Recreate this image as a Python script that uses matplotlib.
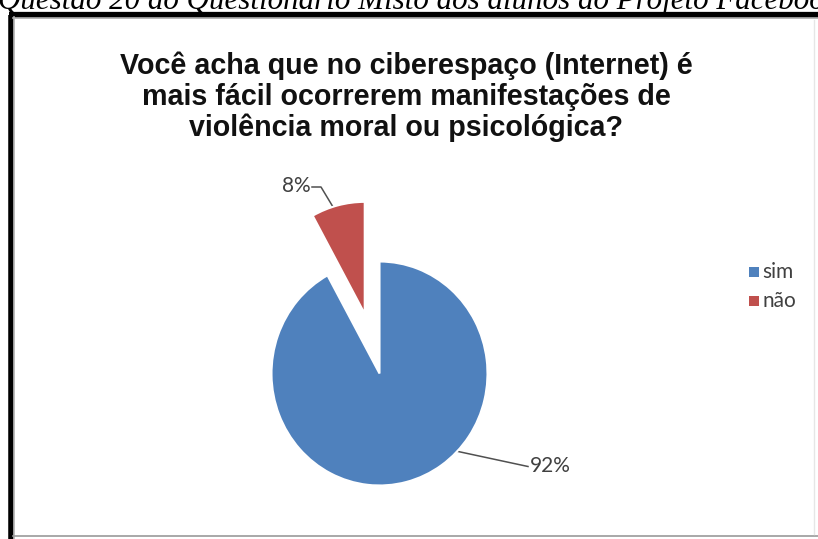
import matplotlib
matplotlib.use("Agg")
import matplotlib.pyplot as plt
import numpy as np

# Survey answers
categories = ["sim", "não"]
values = [92, 8]
pct_labels = ["92%", "8%"]
colors = ["#4F81BD", "#C0504D"]

caption = "Questão 20 do Questionário Misto dos alunos do Projeto Facebook"
title = ("Você acha que no ciberespaço (Internet) é\n"
         "mais fácil ocorrerem manifestações de\n"
         "violência moral ou psicológica?")

W, H = 818, 539
fig = plt.figure(figsize=(W / 100, H / 100), dpi=100)
fig.patch.set_facecolor("white")

# Overlay axes in pixel coordinates (origin top-left)
bg = fig.add_axes([0, 0, 1, 1])
bg.set_xlim(0, W)
bg.set_ylim(H, 0)
bg.axis("off")

# Caption above the chart frame, partly cut by the top edge
bg.text(-2, 9, caption, family="Liberation Serif", style="italic",
        fontsize=22.3, ha="left", va="baseline", color="black", zorder=1)

# Chart frame
bg.plot([10.5, 10.5], [H + 5, 14.5], color="black", lw=4, solid_capstyle="butt")
bg.plot([8.5, W + 5], [14.5, 14.5], color="black", lw=4.5, solid_capstyle="butt")
bg.plot([14, 14], [H, 17], color="#b0b0b0", lw=1.2)
bg.plot([13, W], [17.5, 17.5], color="#b0b0b0", lw=1.2)
bg.plot([13, W], [535.5, 535.5], color="#9a9a9a", lw=1.2)
bg.plot([814, 814], [20, 534], color="#e6e6e6", lw=1)

# Title
bg.text(406, 97, title, family="Liberation Sans", fontweight="bold",
        fontsize=20.6, ha="center", va="center", linespacing=1.13,
        color="#111111")

# Pie axes: radius 1 maps to ~108 px horizontally, ~112 px vertically
cx, cy = 379.5, 373.5
rx, ry = 108.0, 112.0
lim = 1.6
left = (cx - lim * rx) / W
bottom = ((H - cy) - lim * ry) / H
ax = fig.add_axes([left, bottom, 2 * lim * rx / W, 2 * lim * ry / H])
ax.set_xlim(-lim, lim)
ax.set_ylim(-lim, lim)
ax.axis("off")

wedges, _ = ax.pie(values, colors=colors, startangle=90, counterclock=False,
                   explode=[0, 0.55], radius=1,
                   wedgeprops=dict(edgecolor="white", linewidth=1.5))
ax.set_aspect("auto")
ax.set_xlim(-lim, lim)
ax.set_ylim(-lim, lim)

label_font = dict(family="Lato", fontsize=15, color="#404040")

# Leader lines and percentage labels
def arc_point(wedge, ang_deg):
    c = wedge.center
    r = wedge.r
    a = np.deg2rad(ang_deg)
    return (c[0] + r * np.cos(a), c[1] + r * np.sin(a))

def to_px(pt):
    return (cx + pt[0] * rx, cy - pt[1] * ry)

# 92%
p = to_px(arc_point(wedges[0], -44))
bg.plot([p[0], 528], [p[1], 466.5], color="#505050", lw=1.1)
bg.text(530, 466.5, pct_labels[0], ha="left", va="center", **label_font)

# 8%
p = to_px(arc_point(wedges[1], 106))
bg.plot([p[0], 321, 312], [p[1] + 4, 187, 187], color="#505050", lw=1.1)
bg.text(311, 186, pct_labels[1], ha="right", va="center", **label_font)

# Legend
for i, (name, col) in enumerate(zip(categories, colors)):
    y = 272 + i * 29
    bg.add_patch(plt.Rectangle((749, y - 5), 10, 10, facecolor=col,
                               edgecolor="none"))
    bg.text(762, y, name, ha="left", va="center", family="Lato",
            fontsize=15, color="#404040")

fig.savefig("out.png", dpi=100, facecolor="white")
